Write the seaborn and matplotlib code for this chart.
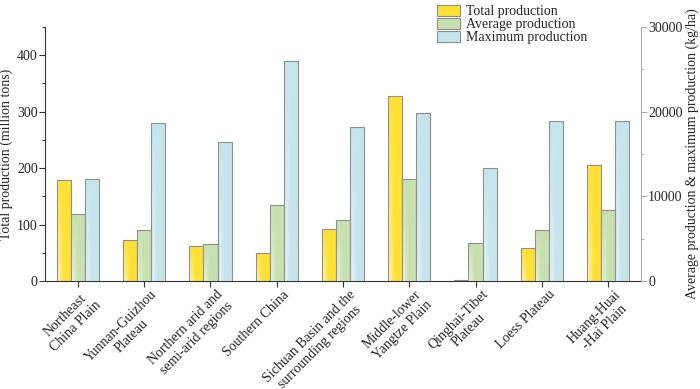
import matplotlib
matplotlib.use("Agg")
import matplotlib.pyplot as plt
import matplotlib.patches as mpatches
import matplotlib.transforms as mtransforms
from matplotlib.ticker import MultipleLocator
import numpy as np
import pandas as pd
import seaborn as sns

regions = [
    "Northeast\nChina Plain",
    "Yunnan-Guizhou\nPlateau",
    "Northern arid and\nsemi-arid regions",
    "Southern China",
    "Sichuan Basin and the\nsurrounding regions",
    "Middle-lower\nYangtze Plain",
    "Qinghai-Tibet\nPlateau",
    "Loess Plateau",
    "Huang-Huai\n-Hai Plain",
]
total_production = [179, 73, 62, 49, 93, 328, 2, 58, 206]  # million tons
average_production = [7900, 6000, 4400, 9000, 7150, 12100, 4450, 6000, 8350]  # kg/ha
maximum_production = [12000, 18650, 16400, 26000, 18200, 19800, 13400, 18850, 18900]  # kg/ha

series = ["Total production", "Average production", "Maximum production"]
colors = {"Total production": "#ffe135",
          "Average production": "#c8e0b0",
          "Maximum production": "#c6e4ec"}
edge = "#8f8f8f"

sns.set_style("white")
plt.rcParams["font.family"] = ["Liberation Serif", "DejaVu Serif"]
plt.rcParams["font.size"] = 10

left_df = pd.DataFrame({"region": regions, "series": series[0], "value": total_production})
right_df = pd.concat([
    pd.DataFrame({"region": regions, "series": series[1], "value": average_production}),
    pd.DataFrame({"region": regions, "series": series[2], "value": maximum_production}),
])

fig = plt.figure(figsize=(7, 3.89), dpi=100)
ax = fig.add_axes([0.064, 0.2776, 0.852, 0.653])
ax2 = ax.twinx()

bar_kw = dict(x="region", y="value", hue="series", hue_order=series, order=regions,
              palette=colors, width=0.64, dodge=True, saturation=1,
              edgecolor=edge, linewidth=0.8, legend=False)
sns.barplot(data=left_df, ax=ax, **bar_kw)
sns.barplot(data=right_df, ax=ax2, **bar_kw)


def shade(axis):
    # soft highlight on the lower-left of each bar, like the original gradient fill
    for p in list(axis.patches):
        x0, y0 = p.get_x(), p.get_y()
        w, h = p.get_width(), p.get_height()
        if h <= 0:
            continue
        base = np.array(matplotlib.colors.to_rgb(p.get_facecolor()))
        gx = np.linspace(0, 1, 20)
        gy = np.linspace(1, 0, 40)
        xx, yy = np.meshgrid(gx, gy)
        light = np.clip(1 - xx / 0.45, 0, 1) * (1 - yy) * 0.7
        img = base + (1 - base) * light[..., None]
        im = axis.imshow(img, extent=[x0, x0 + w, y0, y0 + h], aspect="auto",
                         zorder=1.5, interpolation="bilinear")
        im.set_clip_path(p)
        p.set_facecolor("none")
        p.set_zorder(2)


shade(ax)
shade(ax2)

ax.set_xlim(-0.5, 8.5)
ax.set_ylim(0, 450)
ax2.set_ylim(0, 30000)
ax.set_xlabel("")
ax.set_ylabel("Total production (million tons)", fontsize=10, labelpad=3)
ax2.set_ylabel("Average production & maximum production (kg/ha)", fontsize=10, labelpad=2)

ax.yaxis.set_major_locator(MultipleLocator(100))
ax.yaxis.set_minor_locator(MultipleLocator(50))
ax2.yaxis.set_major_locator(MultipleLocator(10000))
ax2.yaxis.set_minor_locator(MultipleLocator(5000))

for a in (ax, ax2):
    a.spines["top"].set_visible(False)
ax2.spines["left"].set_visible(False)
ax2.spines["bottom"].set_visible(False)
ax.spines["right"].set_visible(False)
ax.spines["left"].set_color("#333333")
ax.spines["bottom"].set_color("#333333")
ax2.spines["right"].set_color("#b0b0b0")

ax.tick_params(axis="y", which="major", length=4, width=0.8, color="#333333", labelsize=10, pad=1)
ax.tick_params(axis="y", which="minor", length=2.5, width=0.8, color="#333333")
ax.tick_params(axis="x", length=4, width=0.8, color="#333333", labelsize=10, pad=1)
ax2.tick_params(axis="y", which="major", length=4, width=0.8, color="#b0b0b0", labelsize=10, pad=1)
ax2.tick_params(axis="y", which="minor", length=2.5, width=0.8, color="#b0b0b0")
ax.yaxis.set_ticks_position("left")
ax.xaxis.set_ticks_position("bottom")

ax.set_xticks(range(len(regions)))
ax.set_xticklabels(regions, rotation=45, ha="right", va="top",
                   rotation_mode="anchor", multialignment="center", linespacing=1.15)
shift = mtransforms.ScaledTranslation(6 / 100, 0, fig.dpi_scale_trans)
for lab in ax.get_xticklabels():
    lab.set_transform(lab.get_transform() + shift)

handles = [mpatches.Patch(facecolor=colors[s], edgecolor=edge, linewidth=0.8, label=s) for s in series]
fig.legend(handles=handles, loc="upper left", bbox_to_anchor=(0.611, 1.012),
           frameon=False, fontsize=10, handlelength=1.6, handleheight=0.8,
           labelspacing=0.0, handletextpad=0.45, borderpad=0.2)

fig.savefig("out.png", dpi=100)
